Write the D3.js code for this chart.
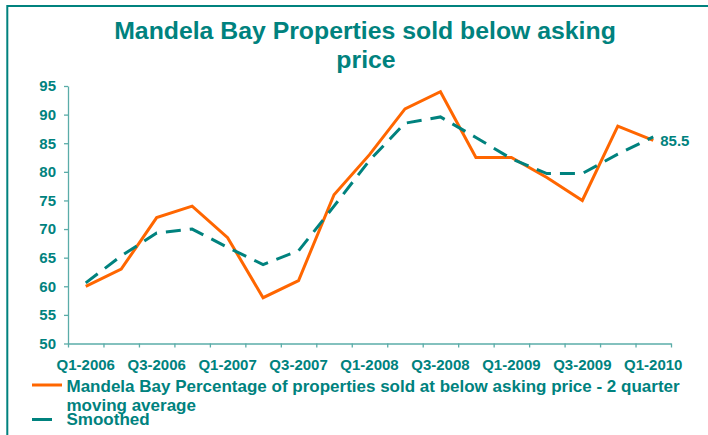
<!DOCTYPE html>
<html>
<head>
    <title>Mandela Bay Properties sold below asking price</title>
    <script src="https://d3js.org/d3.v7.min.js"></script>
    <style>
      body { margin: 0; background: #fff; }
      text { font-family: "Liberation Sans", Arial, sans-serif; font-weight: bold; }
    </style>
</head>
<body>
  <div id="vis"></div>
<script>
  // quarters on the x axis
  var quarters = ["Q1-2006", "Q2-2006", "Q3-2006", "Q4-2006",
                  "Q1-2007", "Q2-2007", "Q3-2007", "Q4-2007",
                  "Q1-2008", "Q2-2008", "Q3-2008", "Q4-2008",
                  "Q1-2009", "Q2-2009", "Q3-2009", "Q4-2009",
                  "Q1-2010"]
  // % sold below asking price - 2 quarter moving average
  var belowAsking = [60, 63, 72, 74, 68.5, 58, 61, 76, 83, 91, 94, 82.5, 82.5, 79, 75, 88, 85.5]
  // smoothed series
  var smoothed = [60.6, 65.3, 69.3, 70, 66.8, 63.8, 66.2, 74, 82, 88.5, 89.6, 86, 82.3, 79.7, 79.7, 83.1, 86.1]
  var yTicks = [50, 55, 60, 65, 70, 75, 80, 85, 90, 95]
  var xLabels = ["Q1-2006", "Q3-2006", "Q1-2007", "Q3-2007", "Q1-2008", "Q3-2008", "Q1-2009", "Q3-2009", "Q1-2010"]
  var lastLabel = "85.5"

  var teal = "#00827e"
  var axisCol = "#5aaca8"
  var orange = "#ff6600"

  var width = 708, height = 435

  var svg = d3.select("div#vis").append("svg")
      .attr("width", width)
      .attr("height", height)

  // outer frame
  svg.append("rect")
      .attr("x", 7.3).attr("y", 6)
      .attr("width", 720).attr("height", 460)
      .attr("fill", "none")
      .attr("stroke", teal)
      .attr("stroke-width", 2)

  // title
  var title = svg.append("text")
      .attr("text-anchor", "middle")
      .attr("fill", teal)
      .style("font-size", "24.8px")
  title.append("tspan").attr("x", 365).attr("y", 39.3).text("Mandela Bay Properties sold below asking")
  title.append("tspan").attr("x", 366).attr("y", 68).text("price")

  // scales
  var x = d3.scaleBand().domain(quarters).range([68, 671]).padding(0)
  var xEdge = d3.scaleLinear().domain([0, quarters.length]).range([68, 671])
  var y = d3.scaleLinear().domain([50, 95]).range([343.5, 86])

  // y axis
  var yAxis = svg.append("g")
      .attr("transform", "translate(68,0)")
      .call(d3.axisLeft(y).tickValues(yTicks).tickSize(4).tickSizeOuter(0).tickPadding(8))
  yAxis.select(".domain").attr("stroke", axisCol).attr("stroke-width", 1.3)
  yAxis.selectAll(".tick line").attr("stroke", axisCol).attr("stroke-width", 1.3)
  yAxis.selectAll(".tick text").attr("fill", teal).style("font-size", "15px")
      .style("font-family", "'Liberation Sans', Arial, sans-serif").style("font-weight", "bold")

  // x axis: tick marks on the category edges
  var xTickAxis = svg.append("g")
      .attr("transform", "translate(0,343.5)")
      .call(d3.axisBottom(xEdge).tickValues(d3.range(quarters.length + 1)).tickSize(4).tickSizeOuter(0).tickFormat(""))
  xTickAxis.select(".domain").attr("stroke", axisCol).attr("stroke-width", 1.3)
  xTickAxis.selectAll(".tick line").attr("stroke", axisCol).attr("stroke-width", 1.3)

  // x axis labels centred on every other quarter
  var xLabAxis = svg.append("g")
      .attr("transform", "translate(0,343.5)")
      .call(d3.axisBottom(x).tickValues(xLabels).tickSize(0).tickPadding(16))
  xLabAxis.select(".domain").remove()
  xLabAxis.selectAll(".tick text").attr("fill", teal).style("font-size", "15px")
      .style("font-family", "'Liberation Sans', Arial, sans-serif").style("font-weight", "bold")

  var line = d3.line()
      .x(function (d, i) { return x(quarters[i]) + x.bandwidth() / 2 })
      .y(function (d) { return y(d) })

  // orange series
  svg.append("path")
      .datum(belowAsking)
      .attr("d", line)
      .attr("fill", "none")
      .attr("stroke", orange)
      .attr("stroke-width", 3)
      .attr("stroke-linejoin", "miter")

  // smoothed dashed series
  svg.append("path")
      .datum(smoothed)
      .attr("d", line)
      .attr("fill", "none")
      .attr("stroke", teal)
      .attr("stroke-width", 3)
      .attr("stroke-dasharray", "15,9")

  // end value label
  var lastI = belowAsking.length - 1
  svg.append("text")
      .attr("x", x(quarters[lastI]) + x.bandwidth() / 2 + 7)
      .attr("y", y(belowAsking[lastI]) + 5.5)
      .attr("fill", teal)
      .style("font-size", "15px")
      .text(lastLabel)

  // legend
  var legend = svg.append("g")
  legend.append("line")
      .attr("x1", 32).attr("x2", 62).attr("y1", 385).attr("y2", 385)
      .attr("stroke", orange).attr("stroke-width", 3)
  var lt = legend.append("text").attr("fill", teal).style("font-size", "17px")
  lt.append("tspan").attr("x", 66.5).attr("y", 391.7)
      .text("Mandela Bay Percentage of properties sold at below asking price - 2 quarter")
  lt.append("tspan").attr("x", 66.5).attr("y", 410.7).text("moving average")
  legend.append("line")
      .attr("x1", 32).attr("x2", 52).attr("y1", 419.5).attr("y2", 419.5)
      .attr("stroke", teal).attr("stroke-width", 3)
  legend.append("text").attr("fill", teal).style("font-size", "17px")
      .attr("x", 66.5).attr("y", 425).text("Smoothed")
</script>
</body>
</html>
